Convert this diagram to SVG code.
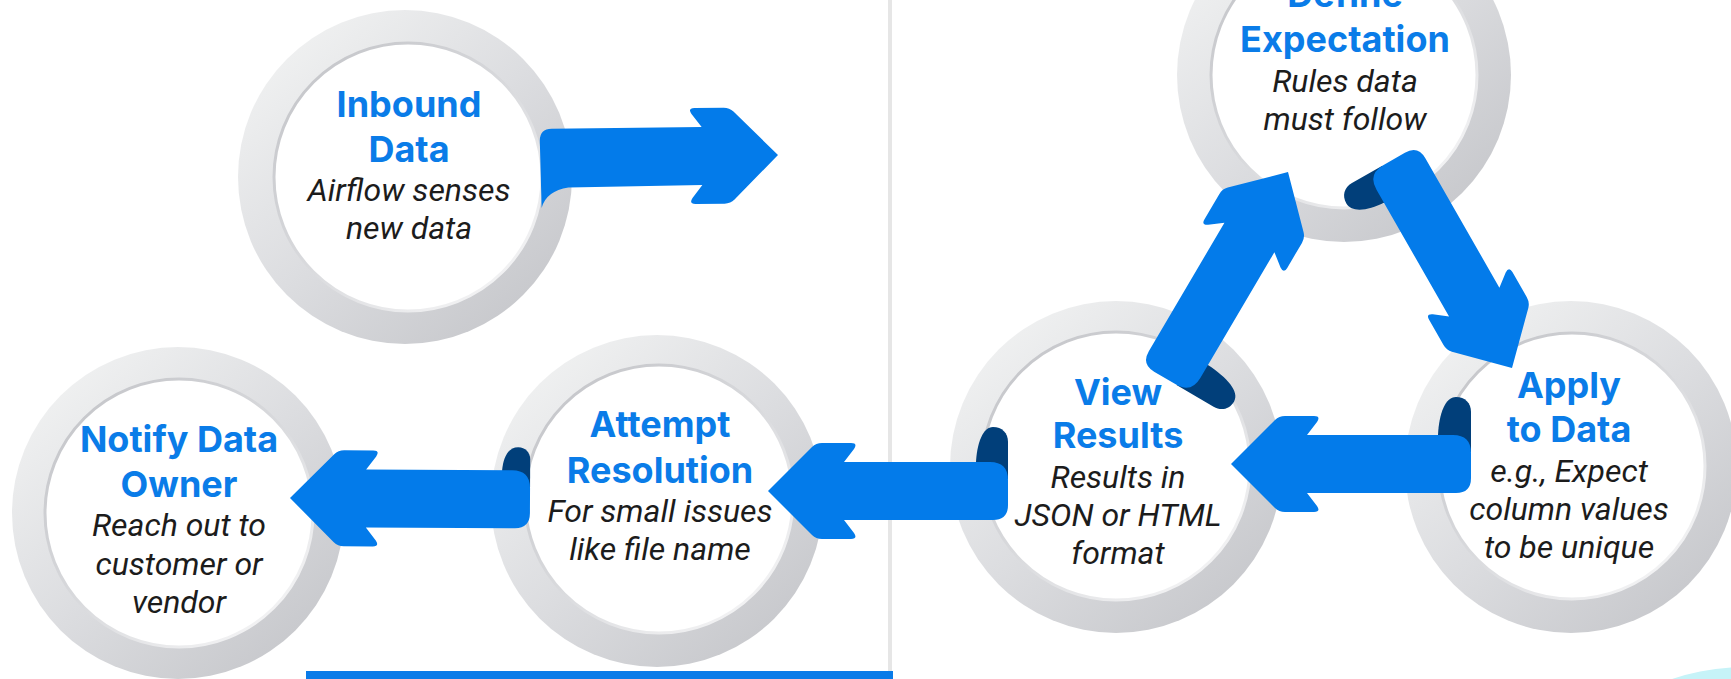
<svg xmlns="http://www.w3.org/2000/svg" xmlns:xlink="http://www.w3.org/1999/xlink" width="1731" height="679" viewBox="0 0 1731 679">
  <defs>
    <linearGradient id="ringGrad" x1="0.1" y1="0.05" x2="0.9" y2="0.95">
      <stop offset="0" stop-color="#f2f3f3"/>
      <stop offset="0.5" stop-color="#dcdde0"/>
      <stop offset="1" stop-color="#c5c6ca"/>
    </linearGradient>
    <linearGradient id="rimGrad" x1="0.1" y1="0.05" x2="0.9" y2="0.95">
      <stop offset="0" stop-color="#c4c5c9"/>
      <stop offset="0.5" stop-color="#d9dadd"/>
      <stop offset="1" stop-color="#f6f6f7"/>
    </linearGradient>
    <!-- ribbon arrow, tip at origin pointing +x, tail 240px back -->
    <path id="arrowBody" d="M0,0 L-44,-44 Q-48,-48 -54,-48 L-83,-48 Q-90,-48 -86,-42 L-76,-29 L-225,-29 Q-240,-29 -240,-14 L-240,11 Q-240,29 -222,29 L-76,29 L-86,42 Q-90,48 -83,48 L-54,48 Q-48,48 -44,44 Z"/>
    <style>
      .ring { fill: url(#ringGrad); }
      .inner { fill: #ffffff; stroke: url(#rimGrad); stroke-width: 3; }
      .title { font-family: Inter, "Open Sans", sans-serif; font-weight: 700; font-size: 36px; fill: #0a7ce8; text-anchor: middle; }
      .desc { font-family: Roboto, "Liberation Sans", sans-serif; font-style: italic; font-size: 32px; fill: #1c1c1c; text-anchor: middle; }
      .arrow { fill: #037bea; }
      .curl { fill: #013f7a; }
    </style>
  </defs>

  <rect width="1731" height="679" fill="#ffffff"/>

  <!-- panel divider and accents -->
  <rect x="888" y="0" width="4" height="679" fill="#e6e6e6"/>
  <rect x="306" y="671" width="587" height="8" fill="#0a7be8"/>
  <circle cx="1747" cy="907" r="240" fill="#c6f3f8"/>

  <g id="node-inbound">
    <circle class="ring" cx="405" cy="177" r="167"/>
    <circle class="inner" cx="408" cy="177" r="134"/>
    <text class="title" x="409" y="117">Inbound</text>
    <text class="title" x="409" y="162">Data</text>
    <text class="desc" x="409" y="201">Airflow senses</text>
    <text class="desc" x="409" y="239">new data</text>
  </g>

  <g id="node-notify">
    <circle class="ring" cx="178" cy="513" r="166"/>
    <circle class="inner" cx="179" cy="513" r="134"/>
    <text class="title" x="179" y="452">Notify Data</text>
    <text class="title" x="179" y="497">Owner</text>
    <text class="desc" x="179" y="536">Reach out to</text>
    <text class="desc" x="179" y="575">customer or</text>
    <text class="desc" x="179" y="613">vendor</text>
  </g>

  <g id="node-attempt">
    <circle class="ring" cx="657" cy="501" r="166"/>
    <circle class="inner" cx="659" cy="499" r="134"/>
    <text class="title" x="660" y="437">Attempt</text>
    <text class="title" x="660" y="483">Resolution</text>
    <text class="desc" x="660" y="522">For small issues</text>
    <text class="desc" x="660" y="560">like file name</text>
  </g>

  <g id="node-define">
    <circle class="ring" cx="1344" cy="75" r="167"/>
    <circle class="inner" cx="1344" cy="75" r="133"/>
    <text class="title" x="1345" y="7">Define</text>
    <text class="title" x="1345" y="52">Expectation</text>
    <text class="desc" x="1345" y="92">Rules data</text>
    <text class="desc" x="1345" y="130">must follow</text>
  </g>

  <g id="node-view">
    <circle class="ring" cx="1116" cy="467" r="166"/>
    <circle class="inner" cx="1116" cy="466" r="134"/>
    <text class="title" x="1118" y="405">View</text>
    <text class="title" x="1118" y="448">Results</text>
    <text class="desc" x="1118" y="488">Results in</text>
    <text class="desc" x="1118" y="526">JSON or HTML</text>
    <text class="desc" x="1118" y="564">format</text>
  </g>

  <g id="node-apply">
    <circle class="ring" cx="1571" cy="467" r="166"/>
    <circle class="inner" cx="1572" cy="466" r="133"/>
    <text class="title" x="1569" y="398">Apply</text>
    <text class="title" x="1569" y="442">to Data</text>
    <text class="desc" x="1569" y="482">e.g., Expect</text>
    <text class="desc" x="1569" y="520">column values</text>
    <text class="desc" x="1569" y="558">to be unique</text>
  </g>

  <g id="connectors">
    <!-- Inbound Data -> Define Expectation -->
    <g transform="translate(778,155) rotate(-0.7)">
      <path class="arrow" d="M0,0 L-44,-44 Q-48,-48 -54,-48 L-83,-48 Q-90,-48 -86,-42 L-76,-29 L-226,-29 Q-238,-29 -238,-17 L-237,50 Q-232,33 -210,30 L-76,29 L-86,42 Q-90,48 -83,48 L-54,48 Q-48,48 -44,44 Z"/>
    </g>
    <!-- Define Expectation -> Apply to Data -->
    <g transform="translate(1512,368) rotate(60.2)">
      <path class="curl" d="M-240,12 L-240,47 C-240,56 -234,62 -225,62 C-214,62 -208,46 -207,29 L-207,12 Z"/>
      <use xlink:href="#arrowBody" class="arrow"/>
    </g>
    <!-- Apply to Data -> View Results -->
    <g transform="translate(1231,464) rotate(180)">
      <path class="curl" d="M-240,12 L-240,52 C-240,61 -234,67 -225,67 C-214,67 -208,50 -207,29 L-207,12 Z"/>
      <use xlink:href="#arrowBody" class="arrow"/>
    </g>
    <!-- View Results -> Define Expectation -->
    <g transform="translate(1288,172) rotate(-59.5)">
      <path class="curl" d="M-240,12 L-240,55 C-240,64 -234,70 -225,70 C-214,70 -208,52 -207,29 L-207,12 Z"/>
      <use xlink:href="#arrowBody" class="arrow"/>
    </g>
    <!-- View Results -> Attempt Resolution -->
    <g transform="translate(768,491) rotate(180)">
      <path class="curl" d="M-240,12 L-240,49 C-240,58 -234,64 -225,64 C-215,64 -209,48 -208,29 L-208,12 Z"/>
      <use xlink:href="#arrowBody" class="arrow"/>
    </g>
    <!-- Attempt Resolution -> Notify Data Owner -->
    <g transform="translate(290,498) rotate(180.3)">
      <path class="curl" d="M-240,12 L-240,40 C-240,47 -235,52 -228,52 C-218,52 -213,42 -212,29 L-212,12 Z"/>
      <use xlink:href="#arrowBody" class="arrow"/>
    </g>
  </g>
</svg>
